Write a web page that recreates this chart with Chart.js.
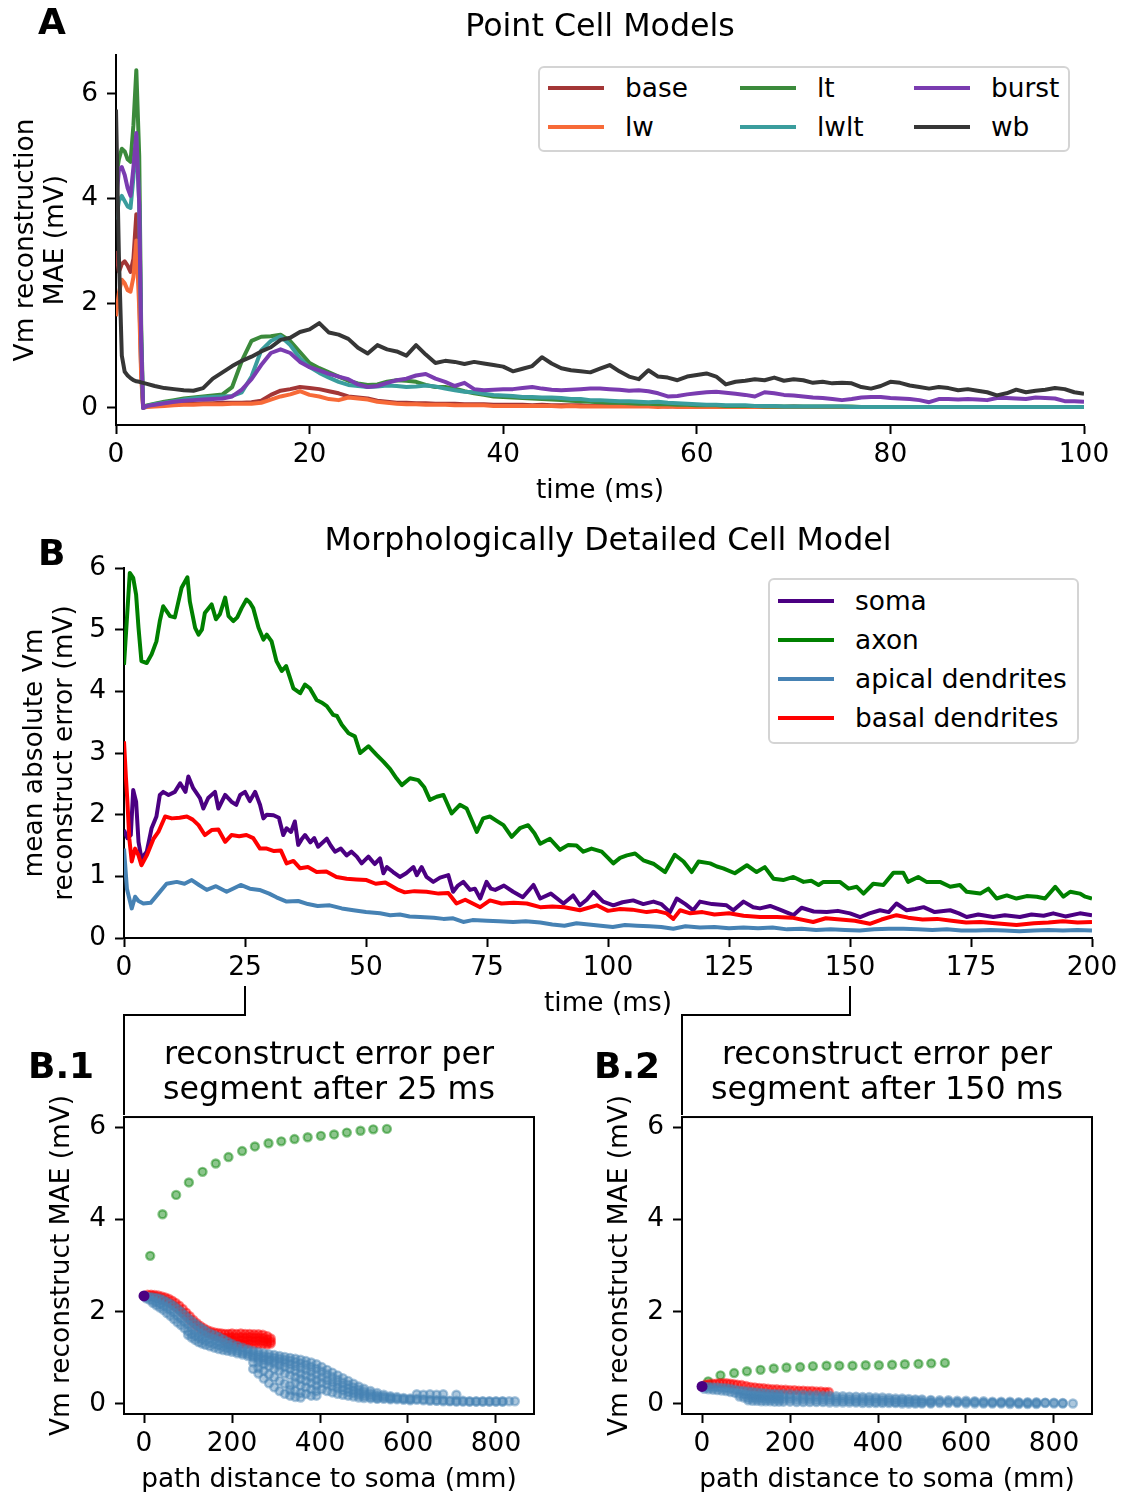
<!DOCTYPE html>
<html>
<head>
<meta charset="utf-8">
<title>Vm reconstruction error</title>
<script src="https://cdn.jsdelivr.net/npm/chart.js@4.4.0/dist/chart.umd.min.js"></script>
<style>
  body { margin: 0; background: #fff; }
  #page { position: relative; width: 1135px; height: 1492px; overflow: hidden; font-family: 'DejaVu Sans', sans-serif; color: #000; }
  canvas { position: absolute; }
  .letter { position: absolute; font-size: 36px; font-weight: bold; line-height: 36px; }
  .legend { position: absolute; background: #fff; border: 2px solid #d4d4d4; border-radius: 6px; box-sizing: border-box; }
  .legend-item { position: absolute; height: 30px; display: flex; align-items: center; white-space: nowrap; }
  .swatch { display: inline-block; width: 56px; height: 4px; margin-right: 21px; }
  .legend-label { font-size: 26.4px; line-height: 30px; }
  .link { position: absolute; border: 0 solid #000; box-sizing: border-box; }
</style>
</head>
<body>
<div id="page">
  <canvas id="chartA" width="1135" height="510" style="left:0;top:3px"></canvas>
  <canvas id="chartB" width="1135" height="520" style="left:0;top:513px"></canvas>
  <canvas id="chartB1" width="567" height="470" style="left:0;top:1033px"></canvas>
  <canvas id="chartB2" width="568" height="470" style="left:567px;top:1033px"></canvas>

  <div class="letter" style="left:38px;top:4px">A</div>
  <div class="letter" style="left:38px;top:535px">B</div>
  <div class="letter" style="left:28px;top:1048px">B.1</div>
  <div class="letter" style="left:594px;top:1048px">B.2</div>

  <div id="legendA" class="legend" style="left:538px;top:66px;width:532px;height:86px"></div>
  <div id="legendB" class="legend" style="left:768px;top:578px;width:311px;height:166px"></div>

  <!-- brackets tying the 25 ms and 150 ms ticks to the snapshot panels -->
  <div class="link" style="left:244px;top:986px;width:2px;height:30px;background:#000"></div>
  <div class="link" style="left:123px;top:1014px;width:123px;height:101px;border-top-width:2px;border-left-width:2px"></div>
  <div class="link" style="left:849px;top:986px;width:2px;height:30px;background:#000"></div>
  <div class="link" style="left:681px;top:1014px;width:170px;height:101px;border-top-width:2px;border-left-width:2px"></div>
</div>

<script>
// ---------- panel A: point cell models (time in ms, MAE in mV) ----------
const timeA = [0, 0.3, 0.6, 0.9, 1.2, 1.5, 1.8, 2.1, 2.4, 2.6, 2.8, 3.2,
  4, 5, 6, 7, 8, 9, 10, 11, 12, 13, 14, 15, 16, 17, 18, 19, 20, 21, 22, 23,
  24, 25, 26, 27, 28, 29, 30, 31, 32, 33, 34, 35, 36, 37, 38, 39, 40, 41, 42, 43,
  44, 45, 46, 47, 48, 49, 50, 51, 52, 53, 54, 55, 56, 57, 58, 59, 60, 61, 62, 63,
  64, 65, 66, 67, 68, 69, 70, 71, 72, 73, 74, 75, 76, 77, 78, 79, 80, 81, 82, 83,
  84, 85, 86, 87, 88, 89, 90, 91, 92, 93, 94, 95, 96, 97, 98, 99, 100];

const baseMAE = [3.0, 2.6, 2.75, 2.8, 2.72, 2.6, 2.85, 3.7, 2.2, 0.7, 0.03, 0.04,
  0.05, 0.06, 0.07, 0.08, 0.08, 0.09, 0.09, 0.10, 0.10, 0.10,
  0.11, 0.14, 0.25, 0.33, 0.36, 0.40, 0.38, 0.36, 0.32, 0.28,
  0.22, 0.20, 0.18, 0.14, 0.12, 0.10, 0.10, 0.09, 0.09, 0.08,
  0.08, 0.08, 0.07, 0.07, 0.07, 0.06, 0.06, 0.06, 0.06, 0.05,
  0.06, 0.05, 0.05, 0.05, 0.05, 0.04, 0.05, 0.04, 0.04, 0.04,
  0.04, 0.04, 0.04, 0.03, 0.04, 0.03, 0.03, 0.03, 0.03, 0.03,
  0.03, 0.03, 0.03, 0.03, 0.03, 0.02, 0.03, 0.02, 0.02, 0.02,
  0.02, 0.02, 0.02, 0.02, 0.02, 0.02, 0.02, 0.02, 0.02, 0.02,
  0.02, 0.02, 0.02, 0.02, 0.02, 0.02, 0.02, 0.02, 0.02, 0.02,
  0.02, 0.02, 0.02, 0.02, 0.02, 0.02, 0.02];

const lwMAE = [1.75, 2.2, 2.45, 2.38, 2.25, 2.22, 2.5, 3.2, 1.9, 0.6, 0.0, 0.02,
  0.03, 0.04, 0.05, 0.06, 0.06, 0.07, 0.07, 0.07, 0.08, 0.08,
  0.08, 0.10, 0.16, 0.22, 0.26, 0.32, 0.25, 0.22, 0.17, 0.15,
  0.20, 0.18, 0.16, 0.12, 0.10, 0.08, 0.07, 0.07, 0.06, 0.06,
  0.06, 0.05, 0.05, 0.05, 0.05, 0.04, 0.04, 0.04, 0.04, 0.04,
  0.04, 0.04, 0.03, 0.04, 0.03, 0.03, 0.03, 0.03, 0.03, 0.03,
  0.03, 0.03, 0.02, 0.03, 0.02, 0.02, 0.02, 0.02, 0.02, 0.02,
  0.02, 0.02, 0.02, 0.02, 0.02, 0.02, 0.02, 0.02, 0.02, 0.02,
  0.02, 0.02, 0.02, 0.02, 0.02, 0.02, 0.02, 0.02, 0.02, 0.02,
  0.02, 0.02, 0.02, 0.02, 0.02, 0.02, 0.02, 0.02, 0.02, 0.02,
  0.02, 0.02, 0.02, 0.02, 0.02, 0.02, 0.02];

const ltMAE = [4.4, 4.75, 4.95, 4.9, 4.75, 4.7, 5.4, 6.45, 4.8, 1.6, 0.02, 0.05,
  0.08, 0.12, 0.15, 0.18, 0.20, 0.22, 0.24, 0.26, 0.40, 0.90,
  1.28, 1.36, 1.37, 1.40, 1.28, 1.07, 0.86, 0.76, 0.68, 0.60,
  0.52, 0.47, 0.44, 0.45, 0.50, 0.53, 0.52, 0.50, 0.44, 0.40,
  0.40, 0.37, 0.32, 0.28, 0.25, 0.22, 0.21, 0.20, 0.19, 0.18,
  0.17, 0.16, 0.15, 0.14, 0.13, 0.12, 0.11, 0.10, 0.10, 0.09,
  0.08, 0.08, 0.07, 0.07, 0.06, 0.06, 0.05, 0.05, 0.05, 0.04,
  0.04, 0.04, 0.04, 0.03, 0.03, 0.03, 0.03, 0.03, 0.03, 0.03,
  0.03, 0.03, 0.03, 0.02, 0.02, 0.02, 0.02, 0.02, 0.02, 0.02,
  0.02, 0.02, 0.02, 0.02, 0.02, 0.02, 0.02, 0.02, 0.02, 0.02,
  0.02, 0.02, 0.02, 0.02, 0.02, 0.02, 0.02];

const lwltMAE = [3.6, 3.95, 4.05, 3.95, 3.85, 3.82, 4.4, 5.2, 3.9, 1.3, 0.0, 0.04,
  0.07, 0.10, 0.13, 0.16, 0.18, 0.20, 0.21, 0.22, 0.23, 0.30,
  0.60, 1.10, 1.28, 1.37, 1.20, 0.95, 0.78, 0.67, 0.58, 0.50,
  0.44, 0.42, 0.40, 0.41, 0.43, 0.42, 0.40, 0.41, 0.43, 0.41,
  0.37, 0.34, 0.31, 0.30, 0.27, 0.25, 0.24, 0.23, 0.21, 0.21,
  0.20, 0.20, 0.19, 0.17, 0.17, 0.15, 0.15, 0.14, 0.13, 0.13,
  0.12, 0.11, 0.12, 0.10, 0.09, 0.08, 0.07, 0.06, 0.06, 0.05,
  0.05, 0.05, 0.04, 0.04, 0.04, 0.03, 0.03, 0.03, 0.03, 0.03,
  0.03, 0.03, 0.02, 0.02, 0.02, 0.02, 0.02, 0.02, 0.02, 0.02,
  0.02, 0.02, 0.02, 0.02, 0.02, 0.02, 0.02, 0.02, 0.02, 0.02,
  0.02, 0.02, 0.02, 0.02, 0.02, 0.02, 0.02];

const burstMAE = [3.9, 4.55, 4.6, 4.45, 4.2, 4.05, 4.6, 5.25, 3.9, 1.3, 0.0, 0.04,
  0.06, 0.09, 0.12, 0.14, 0.15, 0.16, 0.17, 0.18, 0.22, 0.35,
  0.55, 0.82, 1.05, 1.12, 1.05, 0.88, 0.78, 0.72, 0.65, 0.60,
  0.55, 0.45, 0.40, 0.42, 0.48, 0.53, 0.56, 0.62, 0.65, 0.56,
  0.50, 0.42, 0.48, 0.36, 0.34, 0.35, 0.36, 0.36, 0.38, 0.40,
  0.37, 0.35, 0.34, 0.35, 0.36, 0.37, 0.37, 0.36, 0.35, 0.33,
  0.34, 0.32, 0.28, 0.22, 0.23, 0.26, 0.28, 0.30, 0.31, 0.29,
  0.27, 0.25, 0.22, 0.30, 0.28, 0.25, 0.24, 0.22, 0.20, 0.19,
  0.17, 0.15, 0.17, 0.20, 0.21, 0.21, 0.19, 0.18, 0.17, 0.15,
  0.11, 0.17, 0.17, 0.16, 0.17, 0.16, 0.15, 0.19, 0.19, 0.18,
  0.17, 0.20, 0.19, 0.18, 0.13, 0.13, 0.12];

const wbMAE = [5.7, 2.9, 1.0, 0.69, 0.62, 0.57, 0.53, 0.51, 0.50, 0.49, 0.48, 0.46,
  0.42, 0.38, 0.36, 0.34, 0.33, 0.38, 0.56, 0.68, 0.80, 0.90,
  0.98, 1.08, 1.16, 1.30, 1.34, 1.45, 1.50, 1.62, 1.44, 1.40,
  1.32, 1.15, 1.04, 1.20, 1.12, 1.08, 1.00, 1.20, 1.02, 0.86,
  0.90, 0.88, 0.84, 0.88, 0.85, 0.82, 0.79, 0.70, 0.75, 0.80,
  0.97, 0.85, 0.76, 0.72, 0.70, 0.68, 0.75, 0.82, 0.70, 0.60,
  0.55, 0.72, 0.60, 0.58, 0.53, 0.60, 0.63, 0.66, 0.60, 0.45,
  0.50, 0.52, 0.55, 0.53, 0.58, 0.52, 0.55, 0.53, 0.48, 0.50,
  0.47, 0.48, 0.47, 0.40, 0.37, 0.42, 0.50, 0.48, 0.43, 0.40,
  0.37, 0.40, 0.38, 0.34, 0.36, 0.33, 0.30, 0.24, 0.28, 0.35,
  0.30, 0.33, 0.35, 0.38, 0.36, 0.30, 0.27];

const modelNames = ['base', 'lw', 'lt', 'lwlt', 'burst', 'wb'];
const modelColors = ['#a33636', '#f76a38', '#3b8a3b', '#3a9d9d', '#7a3cb0', '#363636'];
const modelSeries = [baseMAE, lwMAE, ltMAE, lwltMAE, burstMAE, wbMAE];
const ticksTimeA = [0, 20, 40, 60, 80, 100];
const ticksMaeA = [0, 2, 4, 6];

// ---------- panel B: detailed morphology, [time ms, MAE mV] ----------
const somaTrace = [[0,1.75],[0.7,1.62],[1.4,1.67],[1.9,2.40],[2.5,2.21],[3.0,1.56],[3.6,1.29],[4.7,1.40],
  [5.7,1.78],[6.7,1.97],[7.4,2.32],[8.1,2.37],[9.2,2.32],[10.5,2.37],[11.6,2.51],[12.7,2.37],[13.3,2.62],
  [14.3,2.43],[15.7,2.27],[16.4,2.10],[17.4,2.27],[18.8,2.37],[19.5,2.10],[20.9,2.32],[22.2,2.21],[23.2,2.16],
  [24,2.32],[25,2.37],[26,2.22],[27.1,2.37],[28.1,2.16],[28.8,1.94],[29.5,2.0],[30.9,1.99],[32,1.95],
  [32.9,1.67],[33.6,1.78],[34.5,1.72],[35.3,1.89],[36,1.51],[36.7,1.60],[37.4,1.67],[38.5,1.55],[39.3,1.62],
  [40.1,1.48],[41.9,1.61],[42.7,1.50],[43.6,1.40],[44.8,1.45],[46,1.34],[47,1.40],[48.1,1.32],[49.1,1.21],
  [50.5,1.32],[51.8,1.20],[52.9,1.29],[53.6,1.05],[54.3,1.15],[55.6,1.07],[57,0.99],[58.3,1.05],[59.8,1.15],
  [60.5,1.02],[61.5,1.15],[62.5,0.99],[63.9,0.91],[65.3,0.98],[67,1.02],[68,0.75],[69,0.85],[70.1,0.91],
  [71.5,0.78],[72.5,0.80],[73.6,0.64],[74.9,0.91],[75.8,0.80],[76.7,0.78],[78.5,0.85],[80.4,0.75],[82.4,0.66],
  [84.6,0.86],[86,0.64],[88.2,0.72],[90.8,0.56],[92.8,0.69],[94.2,0.53],[95.6,0.62],[97,0.75],[99,0.59],
  [101.1,0.53],[103,0.58],[105.2,0.61],[107.3,0.55],[109.4,0.59],[111,0.55],[112.8,0.42],[114.2,0.64],
  [116,0.55],[117.6,0.45],[119,0.59],[121.5,0.55],[124.5,0.53],[125.9,0.45],[128,0.59],[130,0.50],
  [131.4,0.48],[133.5,0.52],[135.5,0.46],[138.3,0.37],[140,0.49],[142.5,0.43],[145.2,0.42],[147.5,0.44],
  [150,0.40],[152.1,0.34],[154,0.40],[156.2,0.45],[158,0.42],[159.6,0.56],[161.7,0.45],[163.5,0.47],
  [165.2,0.50],[167.5,0.42],[170.7,0.45],[172.5,0.40],[174.1,0.34],[176.5,0.38],[179.6,0.34],[182,0.37],
  [185.1,0.34],[187.5,0.38],[190,0.36],[192,0.40],[194.5,0.35],[197.5,0.40],[200,0.37]];

const axonTrace = [[0,4.43],[0.7,5.30],[1.2,5.92],[1.9,5.84],[2.5,5.57],[3.0,5.03],[3.6,4.49],[4.7,4.46],
  [5.7,4.60],[6.7,4.81],[7.4,5.14],[8.1,5.38],[8.8,5.30],[9.5,5.22],[10.5,5.20],[11.9,5.68],[13.1,5.85],
  [13.6,5.46],[14.7,5.03],[15.4,4.92],[16.1,5.00],[16.7,5.27],[18.1,5.41],[19,5.17],[19.8,5.25],[20.9,5.52],
  [21.6,5.22],[22.6,5.14],[23.4,5.20],[24.3,5.35],[25.3,5.49],[26,5.44],[26.7,5.35],[27.8,5.03],[28.8,4.84],
  [29.5,4.92],[30.5,4.81],[31.5,4.49],[32.6,4.33],[33.5,4.41],[34.3,4.22],[35,4.05],[36.4,3.97],[37.4,4.11],
  [38.4,4.05],[39.8,3.86],[40.8,3.82],[41.9,3.76],[43.2,3.62],[44,3.60],[45,3.46],[46.4,3.32],[47.7,3.27],
  [48.8,3.00],[50.5,3.11],[52.2,2.97],[53.6,2.86],[55,2.74],[56.3,2.59],[57.4,2.48],[59.1,2.59],[60.8,2.56],
  [62,2.45],[63.2,2.24],[64.6,2.29],[66,2.32],[67.7,2.02],[69.4,2.16],[70.8,2.10],[72.9,1.72],[74.2,1.94],
  [75.6,1.97],[77,1.90],[78.4,1.83],[80.1,1.64],[81.8,1.78],[83.5,1.83],[84.8,1.70],[86,1.53],[88,1.61],
  [90.1,1.43],[91.8,1.51],[93.5,1.50],[94.9,1.40],[96.6,1.45],[98.7,1.40],[100,1.30],[101.1,1.21],[102.5,1.30],
  [103.9,1.34],[105.6,1.37],[107.3,1.26],[109.5,1.20],[111.8,1.07],[113.8,1.35],[115.6,1.24],[117.3,1.07],
  [118.7,1.24],[121.1,1.21],[122.5,1.16],[123.8,1.13],[126.2,1.05],[128.7,1.18],[130.7,1.07],[132.4,1.15],
  [134.2,0.96],[136.2,0.94],[138.3,0.99],[140.4,0.91],[142,0.93],[143.5,0.86],[144.5,0.91],[147.9,0.91],
  [149.7,0.80],[151.4,0.83],[152.8,0.72],[154.8,0.88],[156.9,0.86],[159,1.06],[161,1.06],[162,0.91],
  [164.1,0.99],[165.8,0.91],[168.6,0.91],[170.7,0.83],[172.7,0.86],[174.1,0.75],[176.9,0.72],[178.6,0.80],
  [180.3,0.64],[182.4,0.69],[184.4,0.64],[186.5,0.68],[188.6,0.67],[190.3,0.64],[192.4,0.83],[194.1,0.67],
  [195.5,0.75],[197.5,0.72],[198.6,0.67],[200,0.64]];

const apicalTrace = [[0,1.45],[0.6,0.80],[1.6,0.48],[2.3,0.67],[3,0.60],[4,0.56],[5.5,0.57],[7.1,0.72],
  [8.8,0.88],[10.9,0.91],[12.5,0.88],[14,0.94],[15.5,0.86],[17.1,0.78],[19,0.84],[21.2,0.75],[22.5,0.80],
  [24.1,0.86],[26,0.80],[28,0.78],[30,0.72],[31.5,0.66],[33.6,0.59],[36,0.60],[38,0.55],[40,0.52],
  [42.5,0.53],[45,0.48],[47.4,0.45],[50,0.42],[52.9,0.40],[55,0.37],[57,0.38],[59,0.35],[61.2,0.34],
  [64,0.33],[66,0.31],[68,0.32],[70.1,0.26],[72,0.29],[75,0.28],[77.5,0.27],[80.4,0.26],[83,0.27],
  [86,0.25],[88.5,0.22],[91,0.20],[93.5,0.24],[96,0.22],[98.5,0.20],[101,0.18],[103.5,0.21],[106,0.20],
  [108.5,0.19],[111,0.18],[113.5,0.15],[116,0.19],[119,0.17],[122,0.18],[125,0.16],[128,0.17],[131,0.16],
  [134,0.17],[137,0.14],[140,0.15],[143,0.13],[146,0.14],[149,0.13],[152,0.12],[155,0.14],[158,0.15],
  [161,0.15],[164,0.14],[167,0.13],[170,0.14],[173,0.12],[176,0.12],[179,0.13],[182,0.12],[185,0.11],
  [188,0.12],[191,0.13],[194,0.12],[197,0.13],[200,0.12]];

const basalTrace = [[0,3.19],[0.4,2.60],[0.7,2.21],[1.1,1.61],[1.6,1.24],[2.3,1.45],[3.0,1.34],[3.6,1.18],
  [4.7,1.34],[6.1,1.61],[7.1,1.72],[8.5,1.97],[9.9,1.94],[11.5,1.95],[13,1.97],[14.2,1.92],[15.4,1.83],
  [16.7,1.67],[18.1,1.75],[19.5,1.76],[20.9,1.56],[22.2,1.67],[23.8,1.65],[25.3,1.67],[26.7,1.62],[28.1,1.45],
  [29.5,1.45],[31,1.41],[32.4,1.42],[33.6,1.21],[35,1.25],[36.4,1.13],[38,1.15],[39.8,1.07],[41.8,1.08],
  [43.9,0.99],[46,0.96],[48,0.95],[50.1,0.94],[52,0.88],[54,0.90],[56.7,0.78],[58,0.74],[60,0.76],
  [62.5,0.75],[65,0.72],[67,0.73],[68.7,0.56],[70.5,0.62],[73.6,0.50],[75.6,0.61],[78,0.56],[80.5,0.57],
  [83.2,0.56],[86,0.50],[88.5,0.51],[91,0.50],[94.2,0.45],[97.7,0.53],[100,0.44],[102.5,0.47],[105,0.46],
  [108,0.42],[110,0.44],[112.1,0.40],[113.5,0.31],[114.9,0.45],[117,0.40],[119.5,0.42],[122,0.38],[125,0.40],
  [128,0.36],[131.4,0.34],[134.9,0.34],[138,0.33],[142.4,0.26],[145,0.32],[148,0.30],[151,0.28],[154.1,0.23],
  [156.5,0.30],[159.6,0.37],[162,0.33],[165,0.30],[168,0.31],[171,0.28],[174,0.25],[177,0.26],[180,0.24],
  [184.4,0.21],[188,0.24],[191,0.25],[194,0.27],[197,0.25],[200,0.26]];

const regionNames = ['soma', 'axon', 'apical dendrites', 'basal dendrites'];
const regionColors = ['#4b0082', '#008000', '#4682b4', '#ff0000'];
const regionTraces = [somaTrace, axonTrace, apicalTrace, basalTrace];
const ticksTimeB = [0, 25, 50, 75, 100, 125, 150, 175, 200];
const ticksMaeB = [0, 1, 2, 3, 4, 5, 6];

// ---------- panels B.1 / B.2: per-segment error vs path distance ----------
// soma is a single segment at distance 0
const somaAt25 = [[0, 2.34]];
const somaAt150 = [[0, 0.38]];

const axonDist = [14, 42, 73, 102, 133, 163, 192, 223, 252, 283, 312, 342, 372, 402, 432, 461, 492, 521, 552];
const axonAt25 = [3.21, 4.11, 4.53, 4.80, 5.03, 5.21, 5.35, 5.48, 5.58, 5.65, 5.69, 5.74, 5.78, 5.81, 5.84, 5.88, 5.92, 5.95, 5.96];
const axonAt150 = [0.49, 0.62, 0.67, 0.71, 0.74, 0.77, 0.79, 0.80, 0.82, 0.83, 0.83, 0.83, 0.84, 0.84, 0.85, 0.86, 0.87, 0.88, 0.89];

// dendrite segments grouped by distance: [distance, [MAE of each segment there]]
const apicalAt25 = [[5,[2.33,2.29]],[12,[2.32,2.26]],[20,[2.31,2.24,2.19]],[28,[2.30,2.21,2.14]],
  [36,[2.28,2.17,2.09]],[44,[2.25,2.13,2.04]],[52,[2.21,2.09,1.97]],[60,[2.17,2.04,1.91]],[68,[2.12,1.98,1.84]],
  [76,[2.06,1.91,1.77]],[84,[2.00,1.85,1.71]],[92,[1.93,1.78,1.64]],[100,[1.86,1.72,1.58,1.50]],
  [108,[1.80,1.66,1.52,1.44]],[116,[1.74,1.60,1.48,1.39]],[124,[1.68,1.55,1.44,1.34]],[132,[1.63,1.51,1.40,1.31]],
  [140,[1.58,1.47,1.37,1.28]],[150,[1.53,1.43,1.33,1.25]],[160,[1.49,1.40,1.30,1.22]],[170,[1.45,1.36,1.27,1.19]],
  [180,[1.40,1.32,1.24,1.17]],[190,[1.35,1.28,1.21,1.15]],[200,[1.30,1.24,1.18,1.13]],[212,[1.26,1.20,1.14,1.10]],
  [224,[1.22,1.16,1.11,1.07]],[236,[1.18,1.13,1.08,1.04]],[248,[1.15,1.10,1.05,1.01,0.90,0.76]],
  [260,[1.12,1.07,1.02,0.98,0.90,0.78,0.66]],[272,[1.10,1.04,0.99,0.95,0.86,0.72,0.55]],
  [284,[1.08,1.02,0.96,0.92,0.82,0.64,0.45]],[296,[1.06,1.00,0.94,0.88,0.76,0.58,0.36]],
  [308,[1.04,0.98,0.92,0.84,0.72,0.50,0.28]],[320,[1.02,0.96,0.90,0.80,0.66,0.44,0.22]],
  [332,[1.00,0.94,0.86,0.76,0.62,0.40,0.30,0.18]],[344,[0.98,0.91,0.82,0.72,0.58,0.46,0.28,0.15]],
  [356,[0.96,0.88,0.78,0.66,0.54,0.40,0.24,0.14]],[368,[0.93,0.85,0.74,0.62,0.50,0.36,0.22]],
  [380,[0.90,0.80,0.70,0.58,0.46,0.32,0.18]],[392,[0.86,0.76,0.64,0.52,0.40,0.28,0.18]],
  [404,[0.80,0.70,0.58,0.46,0.32]],[416,[0.74,0.64,0.52,0.42,0.28]],[428,[0.68,0.58,0.47,0.38,0.25]],
  [440,[0.62,0.52,0.42,0.34,0.22]],[452,[0.56,0.46,0.37,0.30,0.20]],[464,[0.50,0.41,0.33,0.26,0.18]],
  [476,[0.44,0.36,0.29,0.23,0.16]],[488,[0.38,0.31,0.25,0.20,0.14]],[500,[0.33,0.27,0.22,0.17,0.13]],
  [515,[0.28,0.23,0.19,0.15,0.12]],[530,[0.24,0.19,0.16,0.13,0.11]],[545,[0.20,0.16,0.14,0.11]],
  [560,[0.17,0.14,0.12,0.10]],[575,[0.15,0.12,0.10]],[590,[0.13,0.11,0.09]],[605,[0.12,0.10,0.08]],
  [620,[0.11,0.09,0.21]],[635,[0.10,0.08,0.20]],[650,[0.09,0.07,0.21]],[665,[0.08,0.07,0.20]],
  [680,[0.08,0.06,0.21]],[695,[0.07,0.06]],[710,[0.07,0.05,0.20]],[725,[0.07,0.05]],[740,[0.06,0.05]],
  [755,[0.06,0.05]],[770,[0.06,0.05]],[785,[0.06,0.05]],[800,[0.06,0.05]],[815,[0.06,0.05]],[830,[0.06]],[843,[0.06]]];

const basalAt25 = [[8,[2.37]],[16,[2.37,2.34]],[24,[2.36,2.32]],[32,[2.35,2.30]],[40,[2.33,2.27]],
  [48,[2.31,2.24]],[56,[2.28,2.20]],[64,[2.24,2.15]],[72,[2.19,2.10]],[80,[2.13,2.04]],[88,[2.06,1.97]],
  [96,[1.98,1.90]],[104,[1.90,1.82]],[112,[1.82,1.75]],[120,[1.75,1.69]],[128,[1.69,1.63]],[136,[1.64,1.58]],
  [144,[1.60,1.54]],[152,[1.57,1.51]],[160,[1.55,1.48]],[168,[1.54,1.46]],[176,[1.53,1.44]],
  [184,[1.52,1.43,1.36]],[192,[1.52,1.44,1.36,1.30]],[200,[1.53,1.45,1.37,1.30]],[210,[1.52,1.44,1.36,1.29]],
  [220,[1.53,1.45,1.37,1.30]],[230,[1.52,1.44,1.36,1.29]],[240,[1.52,1.45,1.37,1.30]],[250,[1.51,1.44,1.36,1.29]],
  [260,[1.51,1.44,1.37,1.30]],[270,[1.50,1.43,1.36,1.30]],[280,[1.47,1.40,1.34,1.29]],[288,[1.42,1.36,1.31]]];

const apicalAt150 = [[5,[0.37,0.33]],[15,[0.37,0.32]],[25,[0.36,0.31]],[35,[0.36,0.30]],[45,[0.35,0.29]],
  [55,[0.34,0.28]],[65,[0.33,0.26]],[75,[0.31,0.24]],[85,[0.29,0.22,0.16]],[95,[0.28,0.21,0.14]],
  [105,[0.27,0.20,0.13,0.08]],[115,[0.26,0.19,0.13,0.07]],[125,[0.25,0.18,0.12,0.07]],[135,[0.24,0.18,0.12,0.06]],
  [145,[0.23,0.17,0.11,0.06]],[155,[0.22,0.17,0.11,0.06]],[165,[0.22,0.16,0.11,0.05]],[175,[0.21,0.16,0.10,0.05]],
  [185,[0.21,0.15,0.10,0.05]],[200,[0.21,0.15,0.10,0.05]],[215,[0.20,0.15,0.09,0.04]],[230,[0.20,0.14,0.09,0.04]],
  [245,[0.19,0.14,0.09,0.04]],[260,[0.19,0.14,0.08,0.04]],[275,[0.18,0.13,0.08,0.04]],[290,[0.18,0.13,0.08,0.03]],
  [305,[0.17,0.12,0.07,0.03]],[320,[0.17,0.12,0.07,0.03]],[335,[0.16,0.11,0.07,0.03]],[350,[0.16,0.11,0.06,0.03]],
  [365,[0.15,0.11,0.06,0.02]],[380,[0.15,0.10,0.06,0.02]],[395,[0.14,0.10,0.05,0.02]],[410,[0.14,0.09,0.05,0.02]],
  [425,[0.13,0.09,0.05,0.02]],[440,[0.12,0.08,0.04,0.02]],[455,[0.12,0.08,0.04,0.01]],[470,[0.11,0.07,0.04,0.01]],
  [485,[0.10,0.07,0.03,0.01]],[500,[0.10,0.06,0.03,0.01]],[520,[0.09,0.06,0.03,0.01]],[540,[0.08,0.05,0.02]],
  [560,[0.08,0.05,0.02]],[580,[0.07,0.04,0.02]],[600,[0.07,0.04,0.01]],[620,[0.06,0.04,0.01]],[640,[0.06,0.03,0.01]],
  [660,[0.05,0.03,0.01]],[680,[0.05,0.03,0.01]],[700,[0.05,0.03,0.00]],[720,[0.04,0.02,0.00]],[740,[0.04,0.02,0.00]],
  [760,[0.04,0.02,0.00]],[780,[0.03,0.02]],[800,[0.03,0.01]],[820,[0.02,0.01]],[843,[0.01]]];

const basalAt150 = [[8,[0.42]],[16,[0.43]],[24,[0.44]],[32,[0.44]],[40,[0.45]],
  [48,[0.45]],[56,[0.45]],[64,[0.44]],[72,[0.43]],[80,[0.42]],[90,[0.41]],
  [100,[0.39]],[110,[0.37]],[120,[0.36]],[130,[0.35]],[140,[0.34]],[150,[0.33]],
  [160,[0.32]],[170,[0.32]],[180,[0.31]],[190,[0.31]],[200,[0.30]],[210,[0.30]],
  [220,[0.29]],[230,[0.29]],[240,[0.28]],[250,[0.28]],[260,[0.27]],[270,[0.27]],
  [280,[0.26]],[288,[0.26]]];

const ticksDist = [0, 200, 400, 600, 800];
const ticksMaeSeg = [0, 2, 4, 6];

// ---------- shared styling ----------
Chart.defaults.font.family = "'DejaVu Sans', sans-serif";
Chart.defaults.color = '#000';
Chart.defaults.animation = false;

const LABEL = 26.4;
const TITLE = 31.7;

function axis(min, max, tickValues, extra) {
  return Object.assign({
    type: 'linear', min: min, max: max,
    afterBuildTicks: s => { s.ticks = tickValues.map(v => ({ value: v })); },
    border: { display: true, color: '#000', width: 2 },
    grid: { display: true, drawOnChartArea: false, drawTicks: true, tickLength: 9, tickWidth: 2, tickColor: '#000' },
  }, extra);
}

function xAxis(min, max, tickValues, height, text, padBottom) {
  return axis(min, max, tickValues, {
    afterFit: s => { s.height = height; },
    ticks: { font: { size: LABEL }, padding: 5, maxRotation: 0, autoSkip: false },
    title: { display: true, text: text, font: { size: LABEL, lineHeight: 1.2 }, padding: { top: 0, bottom: padBottom } },
  });
}

function yAxis(min, max, tickValues, width, text, padTop, lineHeight) {
  return axis(min, max, tickValues, {
    afterFit: s => { s.width = width; },
    ticks: { font: { size: LABEL }, padding: 9, autoSkip: false },
    title: { display: true, text: text, font: { size: LABEL, lineHeight: lineHeight }, padding: { top: padTop, bottom: 0 } },
  });
}

function titleOpts(text, padTop, padBottom, lineHeight) {
  return {
    display: true, text: text, fullSize: false,
    font: { size: TITLE, weight: 'normal', lineHeight: lineHeight },
    padding: { top: padTop, bottom: padBottom },
  };
}

const quiet = { legend: { display: false }, tooltip: { enabled: false } };

function lineSet(label, color, points, order) {
  return {
    label: label, data: points, borderColor: color, backgroundColor: color,
    borderWidth: 4, pointRadius: 0, borderJoinStyle: 'round', order: order,
  };
}

function buildLegend(id, names, colors, cols, rows) {
  const box = document.getElementById(id);
  names.forEach((name, i) => {
    const item = document.createElement('div');
    item.className = 'legend-item';
    item.style.left = cols[Math.floor(i / rows.length)] + 'px';
    item.style.top = (rows[i % rows.length] - 15) + 'px';
    item.innerHTML = `<span class="swatch" style="background:${colors[i]}"></span><span class="legend-label">${name}</span>`;
    box.appendChild(item);
  });
}

// ---------- panel A ----------
new Chart(document.getElementById('chartA'), {
  type: 'line',
  data: {
    datasets: modelSeries.map((vals, k) =>
      lineSet(modelNames[k], modelColors[k], timeA.map((t, i) => ({ x: t, y: vals[i] })), modelSeries.length - k))
  },
  options: {
    responsive: false,
    layout: { padding: { left: 0, right: 51, top: 0, bottom: 0 } },
    plugins: Object.assign({ title: titleOpts('Point Cell Models', 6, 8, 1.2) }, quiet),
    scales: {
      x: xAxis(0, 100, ticksTimeA, 88, 'time (ms)', 6),
      y: yAxis(-0.325, 6.74, ticksMaeA, 116, ['Vm reconstruction', 'MAE (mV)'], 11, 1.13),
    }
  }
});
buildLegend('legendA', modelNames, modelColors, [8, 200, 374], [20, 59]);

// ---------- panel B ----------
new Chart(document.getElementById('chartB'), {
  type: 'line',
  data: {
    datasets: regionTraces.map((tr, k) =>
      lineSet(regionNames[k], regionColors[k], tr.map(p => ({ x: p[0], y: p[1] })), regionTraces.length - k))
  },
  options: {
    responsive: false,
    layout: { padding: { left: 0, right: 43, top: 0, bottom: 0 } },
    plugins: Object.assign({ title: titleOpts('Morphologically Detailed Cell Model', 10, 7, 1.2) }, quiet),
    scales: {
      x: xAxis(0, 200, ticksTimeB, 95, 'time (ms)', 13),
      y: yAxis(0, 6, ticksMaeB, 124, ['mean absolute Vm', 'reconstruct error (mV)'], 20, 1.13),
    }
  }
});
buildLegend('legendB', regionNames, regionColors, [8], [21, 60, 99, 138]);

// ---------- panels B.1 / B.2 ----------
const frame = {
  id: 'frame',
  afterDatasetsDraw(chart) {
    const { ctx, chartArea: a } = chart;
    ctx.save();
    ctx.strokeStyle = '#000';
    ctx.lineWidth = 2;
    ctx.strokeRect(a.left, a.top, a.right - a.left, a.bottom - a.top);
    ctx.restore();
  }
};

function spread(groups) {
  return groups.flatMap(([d, vals]) => vals.map(v => ({ x: d, y: v })));
}

function dots(label, rgb, points, order) {
  return {
    label: label, data: points, order: order,
    pointRadius: 4, borderWidth: 2.4,
    backgroundColor: `rgba(${rgb},0.45)`, borderColor: `rgba(${rgb},0.45)`,
  };
}

// lower order is painted last: soma on top, then apical over basal
function snapshotChart(id, title, soma, axon, apical, basal, width, yPad, right) {
  new Chart(document.getElementById(id), {
    type: 'scatter',
    data: {
      datasets: [
        dots('axon', '0,128,0', axonDist.map((d, i) => ({ x: d, y: axon[i] })), 4),
        dots('basal dendrites', '255,0,0', spread(basal), 3),
        dots('apical dendrites', '70,130,180', spread(apical), 2),
        { label: 'soma', data: soma.map(p => ({ x: p[0], y: p[1] })), order: 1,
          pointRadius: 5.5, borderWidth: 0, backgroundColor: '#4b0082' },
      ]
    },
    options: {
      responsive: false,
      layout: { padding: { left: 0, right: right, top: 0, bottom: 0 } },
      plugins: Object.assign({ title: titleOpts(title, 5.5, 8.8, 1.1) }, quiet),
      scales: {
        x: xAxis(-45.5, 886.4, ticksDist, 89, 'path distance to soma (mm)', 7),
        y: yAxis(-0.217, 6.217, ticksMaeSeg, width, 'Vm reconstruct MAE (mV)', yPad, 1.2),
      }
    },
    plugins: [frame]
  });
}

snapshotChart('chartB1', ['reconstruct error per', 'segment after 25 ms'],
  somaAt25, axonAt25, apicalAt25, basalAt25, 124, 46, 33);
snapshotChart('chartB2', ['reconstruct error per', 'segment after 150 ms'],
  somaAt150, axonAt150, apicalAt150, basalAt150, 115, 37, 43);
</script>
</body>
</html>
